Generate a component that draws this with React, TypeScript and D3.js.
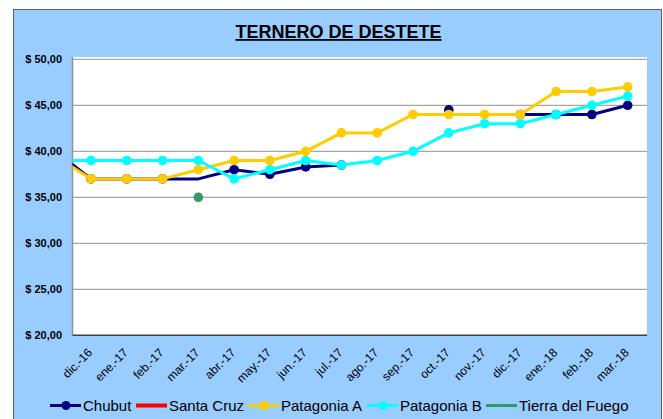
import React from "react";
import * as d3 from "d3";

// Months: first one (nov.-16) lies left of the visible axis and is clipped
const months = ["nov.-16", "dic.-16", "ene.-17", "feb.-17", "mar.-17", "abr.-17", "may.-17", "jun.-17", "jul.-17", "ago.-17", "sep.-17", "oct.-17", "nov.-17", "dic.-17", "ene.-18", "feb.-18", "mar.-18"];
const tickLabels = ["dic.-16", "ene.-17", "feb.-17", "mar.-17", "abr.-17", "may.-17", "jun.-17", "jul.-17", "ago.-17", "sep.-17", "oct.-17", "nov.-17", "dic.-17", "ene.-18", "feb.-18", "mar.-18"];
const yTicks = [20, 25, 30, 35, 40, 45, 50];

const chubut = [40, 37, 37, 37, 37, 38, 37.5, 38.3, 38.5, null, null, 44.5, null, 44, 44, 44, 45];
const santaCruz = [null, null, null, null, null, null, null, null, null, null, null, null, null, null, null, null, null];
const patagoniaA = [39.5, 37, 37, 37, 38, 39, 39, 40, 42, 42, 44, 44, 44, 44, 46.5, 46.5, 47];
const patagoniaB = [39, 39, 39, 39, 39, 37, 38, 39, 38.5, 39, 40, 42, 43, 43, 44, 45, 46];
const tierraDelFuego = [null, null, null, null, 35, null, null, null, null, null, null, null, null, null, null, null, null];
const chubutNoMarker = ["mar.-17"];

const title = "TERNERO DE DESTETE";

type Series = { name: string; values: (number | null)[]; color: string; width: number; marker: boolean; legendMarker: boolean; noMarker?: string[] };

const series: Series[] = [
  { name: "Chubut", values: chubut, color: "#000080", width: 3, marker: true, legendMarker: true, noMarker: chubutNoMarker },
  { name: "Santa Cruz", values: santaCruz, color: "#FF0000", width: 4, marker: false, legendMarker: false },
  { name: "Patagonia A", values: patagoniaA, color: "#FFCC00", width: 3, marker: true, legendMarker: true },
  { name: "Patagonia B", values: patagoniaB, color: "#00FFFF", width: 3, marker: true, legendMarker: true },
  { name: "Tierra del Fuego", values: tierraDelFuego, color: "#339966", width: 3, marker: true, legendMarker: false },
];

const W = 663, H = 419;
const plot = { left: 72.5, right: 647, top: 57, bottom: 335.3 };
const legendX = [50, 136, 248, 367, 486];

export default function App() {
  const x = d3.scaleLinear().domain([1, 16]).range([91, 627.7]);
  const y = d3.scaleLinear().domain([20, 50]).range([335.3, 59.3]);
  const font = "'Liberation Sans', Arial, sans-serif";

  return (
    <svg width={W} height={H} style={{ position: "absolute", left: 0, top: 0, display: "block" }} fontFamily={font}>
      <defs>
        <clipPath id="plotclip">
          <rect x={plot.left} y={plot.top} width={plot.right - plot.left} height={plot.bottom - plot.top} />
        </clipPath>
      </defs>
      <rect x={13.5} y={9.5} width={648} height={420} fill="#99CCFF" stroke="#606060" strokeWidth={1} />
      <text x={338.5} y={38} textAnchor="middle" fontSize={18} fontWeight="bold" textDecoration="underline">{title}</text>

      <rect x={plot.left} y={plot.top} width={plot.right - plot.left} height={plot.bottom - plot.top} fill="#FFFFFF" />
      {yTicks.filter((t) => t > 20).map((t) => (
        <line key={t} x1={plot.left} x2={plot.right} y1={y(t)} y2={y(t)} stroke="#A6A6A6" strokeWidth={1.2} />
      ))}
      <line x1={plot.left} x2={plot.left} y1={plot.top} y2={plot.bottom} stroke="#909090" strokeWidth={1.5} />
      <line x1={plot.left} x2={plot.right} y1={plot.bottom} y2={plot.bottom} stroke="#404040" strokeWidth={1.5} />

      {yTicks.map((t) => (
        <text key={t} x={62} y={y(t)} dy="0.35em" textAnchor="end" fontSize={11} fontWeight="bold">
          {"$ " + d3.format(".2f")(t).replace(".", ",")}
        </text>
      ))}

      {tickLabels.map((lab) => {
        const i = months.indexOf(lab);
        return (
          <text key={lab} transform={`translate(${x(i) + 2},${plot.bottom + 18}) rotate(-45)`} textAnchor="end" fontSize={12}>
            {lab}
          </text>
        );
      })}

      <g clipPath="url(#plotclip)">
        {series.map((s) => {
          const pts = s.values.map((v, i) => ({ v, i }));
          const line = d3
            .line<{ v: number | null; i: number }>()
            .defined((d) => d.v !== null)
            .x((d) => x(d.i))
            .y((d) => y(d.v as number));
          return (
            <g key={s.name}>
              <path d={line(pts) || ""} fill="none" stroke={s.color} strokeWidth={s.width} strokeLinejoin="round" />
              {s.marker &&
                pts
                  .filter((d) => d.v !== null && !(s.noMarker || []).includes(months[d.i]))
                  .map((d) => <circle key={d.i} cx={x(d.i)} cy={y(d.v as number)} r={4.8} fill={s.color} />)}
            </g>
          );
        })}
      </g>

      {series.map((s, k) => {
        const lx = legendX[k];
        const cy = 405.5;
        return (
          <g key={s.name}>
            <line x1={lx} x2={lx + 31} y1={cy} y2={cy} stroke={s.color} strokeWidth={s.width} />
            {s.legendMarker && <circle cx={lx + 16} cy={cy} r={4.5} fill={s.color} />}
            <text x={lx + 33} y={cy} dy="0.36em" fontSize={15}>{s.name}</text>
          </g>
        );
      })}
    </svg>
  );
}
